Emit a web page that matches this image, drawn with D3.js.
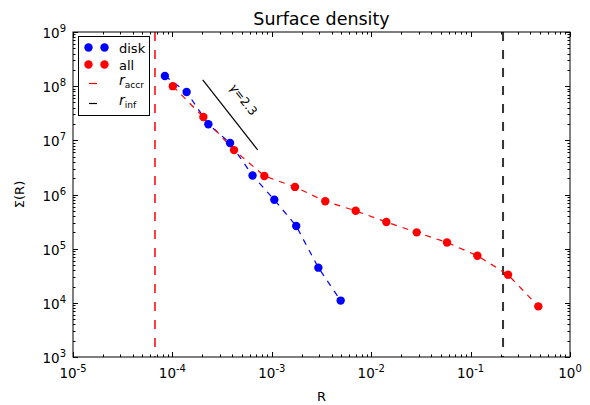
<!DOCTYPE html>
<html>
<head>
<meta charset="utf-8">
<script src="https://cdn.jsdelivr.net/npm/d3@7"></script>
<style>
  body { margin: 0; background: #fff; }
  svg { display: block; }
  text { font-family: "DejaVu Sans", sans-serif; }
</style>
</head>
<body>
<div id="chart"></div>
<script>
// disk component
const diskR = [8.4e-5, 1.39e-4, 2.3e-4, 3.8e-4, 6.4e-4, 1.06e-3, 1.76e-3, 2.94e-3, 4.93e-3];
const diskSigma = [1.54e8, 7.8e7, 1.98e7, 8.9e6, 2.24e6, 8.0e5, 2.62e5, 4.46e4, 1.1e4];
// all material
const allR = [1.01e-4, 2.05e-4, 4.17e-4, 8.41e-4, 1.71e-3, 3.45e-3, 6.98e-3, 1.42e-2, 2.87e-2, 5.79e-2, 0.117, 0.238, 0.48];
const allSigma = [1.0e8, 2.7e7, 6.6e6, 2.2e6, 1.38e6, 7.5e5, 5.0e5, 3.1e5, 2.0e5, 1.3e5, 7.4e4, 3.3e4, 8.6e3];
// reference radii
const rAccr = 6.68e-5;
const rInf = 0.212;
// gamma = 2.3 guide line
const gammaR = [2.02e-4, 7.21e-4];
const gammaSigma = [1.30e8, 6.64e6];
const xDomain = [1e-5, 1];
const yDomain = [1e3, 1e9];

const W = 590, H = 405;
const margin = { top: 32, right: 20, bottom: 48, left: 73 };
const svg = d3.select('#chart').append('svg').attr('width', W).attr('height', H);

const x = d3.scaleLog().domain(xDomain).range([margin.left, W - margin.right]);
const y = d3.scaleLog().domain(yDomain).range([H - margin.bottom, margin.top]);
const x0 = x.range()[0], x1 = x.range()[1], y0 = y.range()[0], y1 = y.range()[1];

const isMajor = v => Math.abs(Math.log10(v) - Math.round(Math.log10(v))) < 1e-9;

// ticks, inside, on all four sides
const tg = svg.append('g').attr('stroke', '#000').attr('stroke-width', 1);
x.ticks().forEach(v => {
  const len = isMajor(v) ? 5 : 2.5;
  const px = Math.round(x(v)) + 0.5;
  tg.append('line').attr('x1', px).attr('x2', px).attr('y1', y0).attr('y2', y0 - len);
  tg.append('line').attr('x1', px).attr('x2', px).attr('y1', y1).attr('y2', y1 + len);
});
y.ticks().forEach(v => {
  const len = isMajor(v) ? 5 : 2.5;
  const py = Math.round(y(v)) + 0.5;
  tg.append('line').attr('x1', x0).attr('x2', x0 + len).attr('y1', py).attr('y2', py);
  tg.append('line').attr('x1', x1).attr('x2', x1 - len).attr('y1', py).attr('y2', py);
});

// tick labels
function powLabel(sel, exp) {
  sel.append('tspan').text('10');
  sel.append('tspan').attr('dy', -6).attr('font-size', 10).text(exp);
}
x.ticks().filter(isMajor).forEach(v => {
  const t = svg.append('text').attr('x', x(v)).attr('y', y0 + 21)
    .attr('text-anchor', 'middle').attr('font-size', 13.5).attr('fill', '#000');
  powLabel(t, String(Math.round(Math.log10(v))));
});
y.ticks().filter(isMajor).forEach(v => {
  const t = svg.append('text').attr('x', x0 - 7).attr('y', y(v) + 6)
    .attr('text-anchor', 'end').attr('font-size', 13.5).attr('fill', '#000');
  powLabel(t, String(Math.round(Math.log10(v))));
});

// vertical reference lines
svg.append('line').attr('x1', x(rAccr)).attr('x2', x(rAccr)).attr('y1', y1).attr('y2', y0)
  .attr('stroke', '#ff0000').attr('stroke-width', 1.5).attr('stroke-dasharray', '9,9');
svg.append('line').attr('x1', x(rInf)).attr('x2', x(rInf)).attr('y1', y1).attr('y2', y0)
  .attr('stroke', '#333').attr('stroke-width', 2).attr('stroke-dasharray', '9,9');

// series
const line = d3.line().x(d => x(d[0])).y(d => y(d[1]));
const series = [
  { r: diskR, s: diskSigma, color: '#0000ff' },
  { r: allR, s: allSigma, color: '#ff0000' }
];
series.forEach(sr => {
  const pts = sr.r.map((r, i) => [r, sr.s[i]]);
  svg.append('path').datum(pts).attr('d', line).attr('fill', 'none')
    .attr('stroke', sr.color).attr('stroke-width', 1.2).attr('stroke-dasharray', '6,6');
});
series.forEach(sr => {
  const pts = sr.r.map((r, i) => [r, sr.s[i]]);
  svg.append('g').selectAll('circle').data(pts).join('circle')
    .attr('cx', d => x(d[0])).attr('cy', d => y(d[1])).attr('r', 4.2)
    .attr('fill', sr.color);
});

// gamma guide
const gpts = gammaR.map((r, i) => [r, gammaSigma[i]]);
svg.append('path').datum(gpts).attr('d', line).attr('fill', 'none')
  .attr('stroke', '#000').attr('stroke-width', 1.2);
const gx = (x(gammaR[0]) + x(gammaR[1])) / 2, gy = (y(gammaSigma[0]) + y(gammaSigma[1])) / 2;
const ang = Math.atan2(y(gammaSigma[1]) - y(gammaSigma[0]), x(gammaR[1]) - x(gammaR[0])) * 180 / Math.PI;
const gt = svg.append('text').attr('transform', `translate(${gx + 10},${gy - 13}) rotate(${ang})`)
  .attr('text-anchor', 'middle').attr('font-size', 12).attr('fill', '#000')
  .attr('font-family', 'DejaVu Serif, serif');
gt.append('tspan').attr('font-style', 'italic').text('γ');
gt.append('tspan').text('=2.3');

// frame
svg.append('rect').attr('x', x0).attr('y', y1).attr('width', x1 - x0).attr('height', y0 - y1)
  .attr('fill', 'none').attr('stroke', '#000').attr('stroke-width', 1);

// titles
svg.append('text').attr('x', (x0 + x1) / 2).attr('y', 25).attr('text-anchor', 'middle')
  .attr('font-size', 17.5).text('Surface density');
svg.append('text').attr('x', (x0 + x1) / 2).attr('y', 401).attr('text-anchor', 'middle')
  .attr('font-size', 13).text('R');
svg.append('text').attr('transform', `translate(24,${(y0 + y1) / 2}) rotate(-90)`)
  .attr('text-anchor', 'middle').attr('font-size', 13).text('Σ(R)');

// legend
const lg = svg.append('g');
lg.append('rect').attr('x', 78.5).attr('y', 36.5).attr('width', 71).attr('height', 79)
  .attr('fill', '#fff').attr('stroke', '#000').attr('stroke-width', 1);
[{ label: 'disk', color: '#0000ff', yy: 47.5 }, { label: 'all', color: '#ff0000', yy: 64.5 }].forEach(e => {
  [88.5, 104.5].forEach(cx => lg.append('circle').attr('cx', cx).attr('cy', e.yy).attr('r', 4.2).attr('fill', e.color));
  lg.append('text').attr('x', 119).attr('y', e.yy + 5).attr('font-size', 13).text(e.label);
});
[{ sub: 'accr', color: '#ff0000', yy: 83.5 }, { sub: 'inf', color: '#000', yy: 103.5 }].forEach(e => {
  lg.append('line').attr('x1', 89).attr('x2', 97).attr('y1', e.yy).attr('y2', e.yy)
    .attr('stroke', e.color).attr('stroke-width', 1.2);
  const t = lg.append('text').attr('x', 119).attr('y', e.yy + 1).attr('font-size', 14)
    .attr('font-family', '"DejaVu Serif", "Liberation Serif", serif');
  t.append('tspan').attr('font-style', 'italic').text('r');
  t.append('tspan').attr('dy', 3).attr('font-size', 9).text(e.sub);
});
</script>
</body>
</html>
